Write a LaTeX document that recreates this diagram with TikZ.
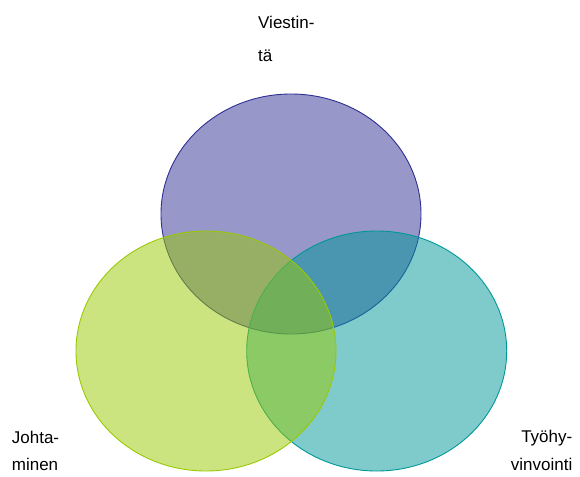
\documentclass[tikz,border=0pt]{standalone}
\usepackage{fontspec}
\setmainfont{Liberation Sans}
\usepackage{xcolor}
\usepackage{tikz}
\usetikzlibrary{shapes.geometric}

\definecolor{vpurple}{RGB}{47,47,147}
\definecolor{vteal}{RGB}{0,151,153}
\definecolor{vgreen}{RGB}{153,201,1}

\begin{document}
\begin{tikzpicture}[x=1pt,y=-1pt,
    set/.style={ellipse,draw,line width=0.9pt,fill opacity=0.5,inner sep=0pt,
        minimum width=260pt,minimum height=240pt},
    lbl/.style={inner sep=0pt,font=\fontsize{17}{27.5}\selectfont}]
    \useasboundingbox (0,0) rectangle (580,476);
    % the three sets
    \node[set,draw=vpurple,fill=vpurple] (viestinta) at (291,214) {};
    \node[set,draw=vteal,fill=vteal] (tyohyvinvointi) at (376.7,351) {};
    \node[set,draw=vgreen,fill=vgreen] (johtaminen) at (206,351) {};
    % labels (anchor = baseline of the last line)
    \node[lbl,anchor=base west,align=left] (lviestinta) at (258,61.5) {Viestin-\\[5.5pt]tä};
    \node[lbl,anchor=base west,align=left] (ljohtaminen) at (11.7,470.7) {Johta-\\minen};
    \node[lbl,anchor=base east,align=right] (ltyohyvinvointi) at (572.5,470.3) {Työhy-\\vinvointi};
\end{tikzpicture}
\end{document}
